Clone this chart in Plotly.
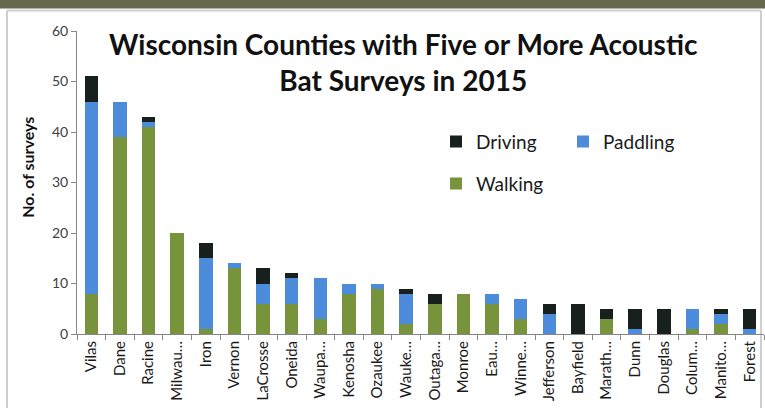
import plotly.graph_objects as go

counties = ["Vilas", "Dane", "Racine", "Milwau…", "Iron", "Vernon", "LaCrosse", "Oneida",
            "Waupa…", "Kenosha", "Ozaukee", "Wauke…", "Outaga…", "Monroe", "Eau…", "Winne…",
            "Jefferson", "Bayfield", "Marath…", "Dunn", "Douglas", "Colum…", "Manito…", "Forest"]
walking = [8, 39, 41, 20, 1, 13, 6, 6, 3, 8, 9, 2, 6, 8, 6, 3, 0, 0, 3, 0, 0, 1, 2, 0]
paddling = [38, 7, 1, 0, 14, 1, 4, 5, 8, 2, 1, 6, 0, 0, 2, 4, 4, 0, 0, 1, 0, 4, 2, 1]
driving = [5, 0, 1, 0, 3, 0, 3, 1, 0, 0, 0, 1, 2, 0, 0, 0, 2, 6, 2, 4, 5, 0, 1, 4]
y_ticks = [0, 10, 20, 30, 40, 50, 60]

C_WALK = "#77933c"
C_PADDLE = "#4d8bdb"
C_DRIVE = "#18201e"
FONT = "Lato"

PW = 687.0
PH = 302.5


def px(x):
    return (x - 77) / PW


def py(y):
    return (334 - y) / PH


fig = go.Figure()
fig.add_trace(go.Bar(x=counties, y=walking, name="Walking", marker_color=C_WALK,
                     marker_line_width=0, legend="legend2"))
fig.add_trace(go.Bar(x=counties, y=paddling, name="Paddling", marker_color=C_PADDLE,
                     marker_line_width=0, legend="legend"))
fig.add_trace(go.Bar(x=counties, y=driving, name="Driving", marker_color=C_DRIVE,
                     marker_line_width=0, legend="legend"))

fig.update_layout(
    width=765, height=408,
    barmode="stack", bargap=0.53,
    paper_bgcolor="white", plot_bgcolor="white",
    margin=dict(l=77, r=1, t=31, b=74, autoexpand=False),
    font=dict(family=FONT, color="#404040"),
    showlegend=True,
    legend=dict(orientation="h", x=px(436), y=py(142), xanchor="left", yanchor="middle",
                traceorder="reversed", entrywidth=82, entrywidthmode="pixels",
                font=dict(size=19, color="#1a1a1a"), bgcolor="rgba(0,0,0,0)"),
    legend2=dict(orientation="h", x=px(436), y=py(184), xanchor="left", yanchor="middle",
                 font=dict(size=19, color="#1a1a1a"), bgcolor="rgba(0,0,0,0)"),
    xaxis=dict(showline=True, linecolor="#868686", linewidth=1, ticks="outside",
               tickson="boundaries", ticklen=5, tickcolor="#868686", tickangle=-90,
               tickfont=dict(size=15, color="#1a1a1a"), showgrid=False),
    yaxis=dict(range=[0, 60], tickvals=y_ticks, showline=True, linecolor="#868686",
               linewidth=1, ticks="outside", ticklen=5, tickcolor="#868686",
               tickfont=dict(size=14, color="#404040"), showgrid=False, zeroline=False),
    shapes=[
        dict(type="rect", xref="paper", yref="paper", x0=px(-20), x1=px(800),
             y0=py(9), y1=py(-5), fillcolor="#67694f", line_width=0, layer="above"),
        dict(type="line", xref="paper", yref="paper", x0=px(7), x1=px(761),
             y0=py(11), y1=py(11), line=dict(color="#cfcfcf", width=2), layer="below"),
        dict(type="line", xref="paper", yref="paper", x0=px(7), x1=px(7),
             y0=py(11), y1=py(420), line=dict(color="#cfcfcf", width=2), layer="below"),
        dict(type="line", xref="paper", yref="paper", x0=px(761), x1=px(761),
             y0=py(11), y1=py(420), line=dict(color="#cfcfcf", width=2), layer="below"),
    ],
    annotations=[
        dict(text="<b>Wisconsin Counties with Five or More Acoustic<br>Bat Surveys in 2015</b>",
             xref="paper", yref="paper", x=px(403), y=py(62.5),
             xanchor="center", yanchor="middle", showarrow=False,
             font=dict(size=28, color="#111111", family=FONT)),
        dict(text="<b>No. of surveys</b>", xref="paper", yref="paper",
             x=px(28), y=py(168), textangle=-90,
             xanchor="center", yanchor="middle", showarrow=False,
             font=dict(size=16, color="#111111", family=FONT)),
    ],
)

fig.write_html("out.html")
